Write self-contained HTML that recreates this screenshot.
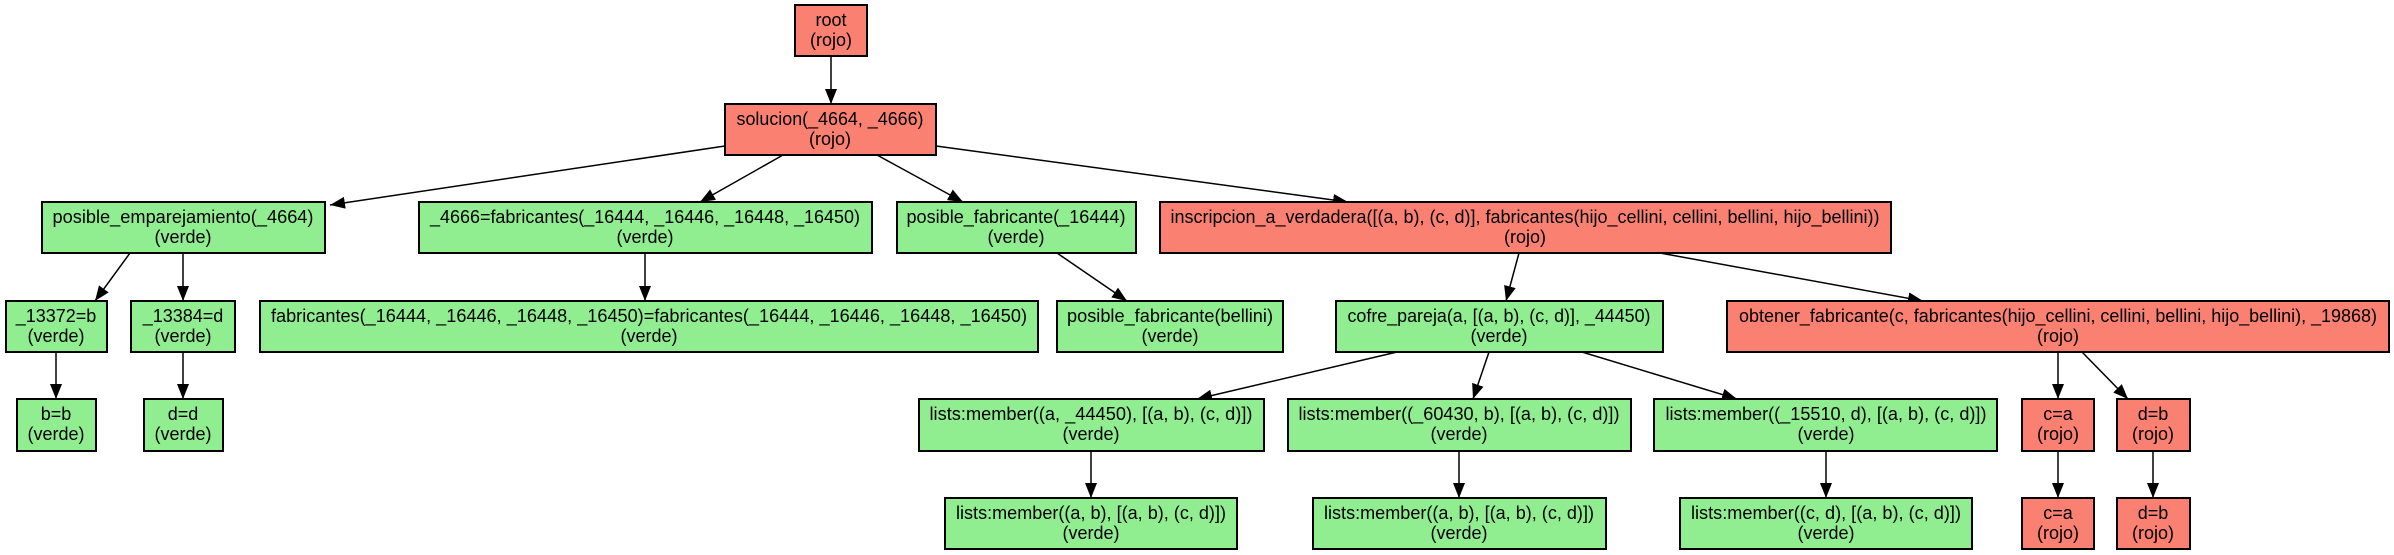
<!DOCTYPE html>
<html><head><meta charset="utf-8"><style>html,body{margin:0;padding:0;background:#fff}svg{display:block}</style></head>
<body>
<svg width="2394" height="555" viewBox="0 0 2394 555" xmlns="http://www.w3.org/2000/svg" font-family="Liberation Sans, sans-serif" font-size="18">
<defs><marker id="a" markerUnits="userSpaceOnUse" markerWidth="16" markerHeight="12" refX="15" refY="6" orient="auto"><path d="M0,0 L15,6 L0,12 Z" fill="#000"/></marker></defs>
<g stroke="#000" stroke-width="1.5" marker-end="url(#a)">
<line x1="831" y1="56" x2="831" y2="104"/>
<line x1="725" y1="146" x2="330" y2="205"/>
<line x1="783" y1="155" x2="700" y2="202"/>
<line x1="877" y1="155" x2="963" y2="202"/>
<line x1="936" y1="146" x2="1348" y2="202"/>
<line x1="1519" y1="253" x2="1506" y2="301"/>
<line x1="1660" y1="253" x2="1923" y2="301"/>
<line x1="130" y1="253" x2="95" y2="301"/>
<line x1="183" y1="253" x2="183" y2="301"/>
<line x1="645" y1="253" x2="645" y2="301"/>
<line x1="1057" y1="253" x2="1127" y2="301"/>
<line x1="1397" y1="352" x2="1197" y2="399"/>
<line x1="1489" y1="352" x2="1473" y2="399"/>
<line x1="1582" y1="352" x2="1737" y2="399"/>
<line x1="2058" y1="352" x2="2058" y2="399"/>
<line x1="2082" y1="352" x2="2128" y2="399"/>
<line x1="56" y1="352" x2="56" y2="399"/>
<line x1="183" y1="352" x2="183" y2="399"/>
<line x1="1091" y1="451" x2="1091" y2="498"/>
<line x1="1459" y1="451" x2="1459" y2="498"/>
<line x1="1826" y1="451" x2="1826" y2="498"/>
<line x1="2058" y1="451" x2="2058" y2="498"/>
<line x1="2153" y1="451" x2="2153" y2="498"/>
</g>
<g stroke="#000" stroke-width="2">
<rect x="795" y="5" width="72" height="51" fill="#fa8072"/>
<rect x="725" y="104" width="211" height="51" fill="#fa8072"/>
<rect x="42" y="202" width="283" height="51" fill="#90ee90"/>
<rect x="419" y="202" width="453" height="51" fill="#90ee90"/>
<rect x="897" y="202" width="239" height="51" fill="#90ee90"/>
<rect x="1160" y="202" width="731" height="51" fill="#fa8072"/>
<rect x="6" y="301" width="101" height="51" fill="#90ee90"/>
<rect x="131" y="301" width="104" height="51" fill="#90ee90"/>
<rect x="260" y="301" width="778" height="51" fill="#90ee90"/>
<rect x="1057" y="301" width="226" height="51" fill="#90ee90"/>
<rect x="1336" y="301" width="327" height="51" fill="#90ee90"/>
<rect x="1727" y="301" width="662" height="51" fill="#fa8072"/>
<rect x="17" y="399" width="79" height="52" fill="#90ee90"/>
<rect x="144" y="399" width="79" height="52" fill="#90ee90"/>
<rect x="919" y="399" width="345" height="52" fill="#90ee90"/>
<rect x="1288" y="399" width="343" height="52" fill="#90ee90"/>
<rect x="1654" y="399" width="343" height="52" fill="#90ee90"/>
<rect x="2022" y="399" width="72" height="52" fill="#fa8072"/>
<rect x="2117" y="399" width="73" height="52" fill="#fa8072"/>
<rect x="945" y="498" width="292" height="51" fill="#90ee90"/>
<rect x="1313" y="498" width="293" height="51" fill="#90ee90"/>
<rect x="1680" y="498" width="292" height="51" fill="#90ee90"/>
<rect x="2022" y="498" width="72" height="51" fill="#fa8072"/>
<rect x="2117" y="498" width="73" height="51" fill="#fa8072"/>
</g>
<g text-anchor="middle" fill="#000">
<text x="831" y="26">root</text><text x="831" y="46">(rojo)</text>
<text x="830" y="125" textLength="187" lengthAdjust="spacingAndGlyphs">solucion(_4664, _4666)</text><text x="830" y="145">(rojo)</text>
<text x="183" y="223" textLength="261" lengthAdjust="spacingAndGlyphs">posible_emparejamiento(_4664)</text><text x="183" y="243">(verde)</text>
<text x="645" y="223" textLength="430" lengthAdjust="spacingAndGlyphs">_4666=fabricantes(_16444, _16446, _16448, _16450)</text><text x="645" y="243">(verde)</text>
<text x="1016" y="223" textLength="219" lengthAdjust="spacingAndGlyphs">posible_fabricante(_16444)</text><text x="1016" y="243">(verde)</text>
<text x="1525" y="223" textLength="709" lengthAdjust="spacingAndGlyphs">inscripcion_a_verdadera([(a, b), (c, d)], fabricantes(hijo_cellini, cellini, bellini, hijo_bellini))</text><text x="1525" y="243">(rojo)</text>
<text x="56" y="322">_13372=b</text><text x="56" y="342">(verde)</text>
<text x="183" y="322">_13384=d</text><text x="183" y="342">(verde)</text>
<text x="649" y="322" textLength="756" lengthAdjust="spacingAndGlyphs">fabricantes(_16444, _16446, _16448, _16450)=fabricantes(_16444, _16446, _16448, _16450)</text><text x="649" y="342">(verde)</text>
<text x="1170" y="322" textLength="206" lengthAdjust="spacingAndGlyphs">posible_fabricante(bellini)</text><text x="1170" y="342">(verde)</text>
<text x="1499" y="322" textLength="303" lengthAdjust="spacingAndGlyphs">cofre_pareja(a, [(a, b), (c, d)], _44450)</text><text x="1499" y="342">(verde)</text>
<text x="2058" y="322" textLength="638" lengthAdjust="spacingAndGlyphs">obtener_fabricante(c, fabricantes(hijo_cellini, cellini, bellini, hijo_bellini), _19868)</text><text x="2058" y="342">(rojo)</text>
<text x="56" y="420">b=b</text><text x="56" y="440">(verde)</text>
<text x="183" y="420">d=d</text><text x="183" y="440">(verde)</text>
<text x="1091" y="420" textLength="323" lengthAdjust="spacingAndGlyphs">lists:member((a, _44450), [(a, b), (c, d)])</text><text x="1091" y="440">(verde)</text>
<text x="1459" y="420" textLength="321" lengthAdjust="spacingAndGlyphs">lists:member((_60430, b), [(a, b), (c, d)])</text><text x="1459" y="440">(verde)</text>
<text x="1826" y="420" textLength="321" lengthAdjust="spacingAndGlyphs">lists:member((_15510, d), [(a, b), (c, d)])</text><text x="1826" y="440">(verde)</text>
<text x="2058" y="420">c=a</text><text x="2058" y="440">(rojo)</text>
<text x="2153" y="420">d=b</text><text x="2153" y="440">(rojo)</text>
<text x="1091" y="519" textLength="270" lengthAdjust="spacingAndGlyphs">lists:member((a, b), [(a, b), (c, d)])</text><text x="1091" y="539">(verde)</text>
<text x="1459" y="519" textLength="270" lengthAdjust="spacingAndGlyphs">lists:member((a, b), [(a, b), (c, d)])</text><text x="1459" y="539">(verde)</text>
<text x="1826" y="519" textLength="270" lengthAdjust="spacingAndGlyphs">lists:member((c, d), [(a, b), (c, d)])</text><text x="1826" y="539">(verde)</text>
<text x="2058" y="519">c=a</text><text x="2058" y="539">(rojo)</text>
<text x="2153" y="519">d=b</text><text x="2153" y="539">(rojo)</text>
</g>
</svg>
</body></html>
